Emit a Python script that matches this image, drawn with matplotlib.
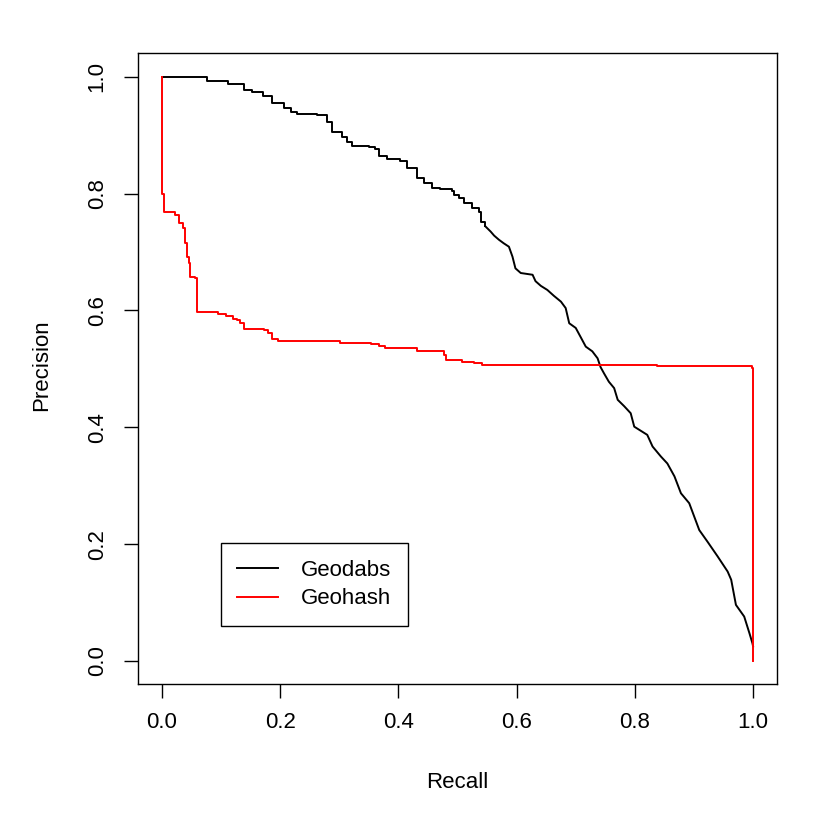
import matplotlib
matplotlib.use("Agg")
import matplotlib.pyplot as plt

plt.rcParams['font.family'] = ['Liberation Sans', 'DejaVu Sans']

# Geodabs precision-recall curve (recall, precision)
geodabs_recall = [0.0, 0.076, 0.112, 0.139, 0.152, 0.171, 0.186, 0.207, 0.218, 0.228,
                  0.262, 0.279, 0.288, 0.305, 0.313, 0.322, 0.350, 0.361, 0.368, 0.380,
                  0.403, 0.415, 0.432, 0.443, 0.457, 0.471, 0.491, 0.494, 0.502, 0.511,
                  0.525, 0.536, 0.539, 0.547, 0.556, 0.562, 0.570, 0.578, 0.587, 0.593,
                  0.598, 0.607, 0.627, 0.632, 0.641, 0.652, 0.663, 0.675, 0.683, 0.689,
                  0.700, 0.708, 0.717, 0.728, 0.737, 0.742, 0.748, 0.756, 0.765, 0.771,
                  0.782, 0.793, 0.799, 0.821, 0.830, 0.844, 0.855, 0.867, 0.878, 0.892,
                  0.909, 0.923, 0.940, 0.957, 0.963, 0.971, 0.985, 0.994, 0.999, 1.0]
geodabs_precision = [1.0, 0.992, 0.987, 0.978, 0.973, 0.967, 0.955, 0.947, 0.939, 0.937,
                     0.935, 0.923, 0.906, 0.897, 0.889, 0.882, 0.880, 0.876, 0.865, 0.859,
                     0.855, 0.843, 0.826, 0.818, 0.810, 0.808, 0.805, 0.798, 0.792, 0.784,
                     0.775, 0.769, 0.752, 0.744, 0.735, 0.728, 0.721, 0.715, 0.709, 0.692,
                     0.672, 0.664, 0.661, 0.650, 0.642, 0.635, 0.625, 0.615, 0.604, 0.578,
                     0.570, 0.555, 0.538, 0.530, 0.518, 0.503, 0.492, 0.478, 0.467, 0.447,
                     0.436, 0.424, 0.401, 0.387, 0.367, 0.350, 0.338, 0.316, 0.287, 0.270,
                     0.224, 0.204, 0.179, 0.153, 0.139, 0.096, 0.076, 0.047, 0.030, 0.025]

# Geohash precision-recall curve (recall, precision)
geohash_recall = [0.0, 0.0, 0.003, 0.022, 0.029, 0.035, 0.039, 0.042, 0.045, 0.047,
                  0.056, 0.059, 0.060, 0.095, 0.108, 0.121, 0.127, 0.132, 0.138, 0.172,
                  0.180, 0.186, 0.197, 0.302, 0.353, 0.367, 0.378, 0.432, 0.477, 0.481,
                  0.508, 0.528, 0.542, 0.838, 0.974, 0.999, 1.0]
geohash_precision = [1.0, 0.800, 0.768, 0.764, 0.749, 0.741, 0.715, 0.692, 0.681, 0.658,
                     0.656, 0.630, 0.597, 0.593, 0.590, 0.585, 0.583, 0.578, 0.569, 0.566,
                     0.561, 0.551, 0.547, 0.545, 0.542, 0.539, 0.535, 0.530, 0.524, 0.515,
                     0.512, 0.510, 0.507, 0.505, 0.504, 0.501, 0.0]

series_names = ["Geodabs", "Geohash"]
series_colors = ["black", "red"]
ticks = [0.0, 0.2, 0.4, 0.6, 0.8, 1.0]
tick_labels = ["0.0", "0.2", "0.4", "0.6", "0.8", "1.0"]

fig = plt.figure(figsize=(8.30, 8.23), dpi=100)
ax = fig.add_axes([0.1666, 0.1685, 0.9358 - 0.1666, 0.9352 - 0.1685])

# Upper part of Geodabs drawn as clear steps, dense lower part as a jagged line
k = next(i for i, r in enumerate(geodabs_recall) if r >= 0.54)
ax.plot(geodabs_recall[:k + 1], geodabs_precision[:k + 1], drawstyle='steps-post',
        color=series_colors[0], lw=1.4, label=series_names[0])
ax.plot(geodabs_recall[k:], geodabs_precision[k:],
        color=series_colors[0], lw=1.4)
ax.plot(geohash_recall, geohash_precision, drawstyle='steps-post',
        color=series_colors[1], lw=1.4, label=series_names[1])

ax.set_xlim(-0.04, 1.04)
ax.set_ylim(-0.04, 1.04)
ax.set_xticks(ticks)
ax.set_xticklabels(tick_labels)
ax.set_yticks(ticks)
ax.set_yticklabels(tick_labels, rotation=90, va='center')
ax.tick_params(axis='both', length=10, width=1, labelsize=16, direction='out', color='black')
ax.tick_params(axis='x', pad=10)
ax.tick_params(axis='y', pad=12)
for s in ax.spines.values():
    s.set_linewidth(1.0)
    s.set_color('black')

fig.text(457 / 830, 1 - 782 / 823, "Recall", ha='center', va='center', fontsize=16)
fig.text(42 / 830, 1 - 365 / 823, "Precision", ha='center', va='center', fontsize=16, rotation=90)

leg = ax.legend(loc='lower left', bbox_to_anchor=(0.129, 0.0924), borderaxespad=0,
                fontsize=16, frameon=True, fancybox=False, framealpha=1,
                edgecolor='black', borderpad=0.75, handlelength=1.85,
                handletextpad=1.0, labelspacing=0.35)
leg.get_frame().set_linewidth(1.0)

fig.savefig("out.png", dpi=100)
